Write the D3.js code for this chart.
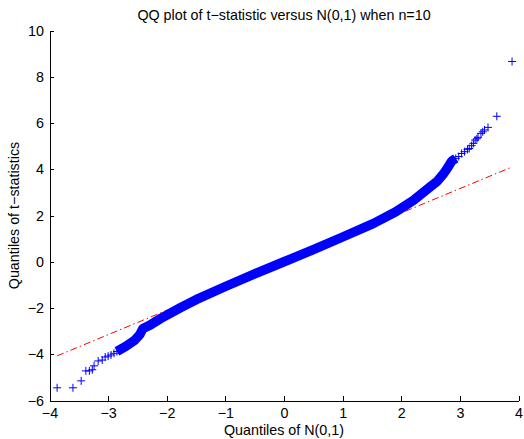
<!DOCTYPE html>
<html>
<head>
<meta charset="utf-8">
<script src="https://cdn.jsdelivr.net/npm/d3@7"></script>
<style>
  body { margin: 0; background: #ffffff; }
  svg { display: block; font-family: "Liberation Sans", Arial, sans-serif; }
  .axis text { font-size: 14.3px; fill: #000000; font-family: "Liberation Sans", Arial, sans-serif; }
  .axis path, .axis line { stroke: #000000; stroke-width: 1; shape-rendering: crispEdges; }
</style>
</head>
<body>
<svg id="chart"></svg>
<script>
// sparse markers of the lower tail (normal quantile, t quantile)
const lowTailX = [-3.87, -3.60, -3.46, -3.38, -3.32, -3.27, -3.24, -3.17, -3.10, -3.05, -3.00, -2.95, -2.90];
const lowTailY = [-5.45, -5.45, -5.15, -4.72, -4.72, -4.67, -4.50, -4.29, -4.25, -4.12, -4.08, -4.03, -3.96];

// the dense middle of the sample, read along its centre
const bandX = [-2.85, -2.70, -2.55, -2.46, -2.41, -2.30, -2.10, -1.76, -1.50, -1.00, -0.50, 0.00,
  0.50, 1.00, 1.52, 1.90, 2.21, 2.49, 2.61, 2.72, 2.78, 2.86, 2.93];
const bandY = [-3.88, -3.66, -3.40, -3.15, -2.90, -2.76, -2.45, -1.98, -1.64, -1.07, -0.52, 0.00,
  0.52, 1.07, 1.65, 2.15, 2.66, 3.23, 3.47, 3.80, 4.02, 4.35, 4.47];

// sparse markers of the upper tail
const highTailX = [2.98, 3.03, 3.08, 3.13, 3.16, 3.20, 3.23, 3.26, 3.29, 3.31, 3.36, 3.39, 3.42, 3.48, 3.63, 3.89];
const highTailY = [4.55, 4.68, 4.76, 4.86, 4.90, 5.02, 5.12, 5.26, 5.32, 5.38, 5.55, 5.62, 5.70, 5.81, 6.29, 8.66];

// reference line through the quartiles
const refX = [-3.87, 3.89];
const refY = [-4.07, 4.10];

const xTicks = [-4, -3, -2, -1, 0, 1, 2, 3, 4];
const yTicks = [-6, -4, -2, 0, 2, 4, 6, 8, 10];

const titleText = "QQ plot of t\u2212statistic versus N(0,1) when n=10";
const xLabel = "Quantiles of N(0,1)";
const yLabel = "Quantiles of t\u2212statistics";

class QQPlot {
  constructor(el) {
    this.el = el;
    this.init();
  }

  init() {
    this.dims = { width: 524, height: 439, left: 49.5, right: 518.5, top: 30.5, bottom: 400.5 };
    this.x = d3.scaleLinear().domain([-4, 4]).range([this.dims.left, this.dims.right]);
    this.y = d3.scaleLinear().domain([-6, 10]).range([this.dims.bottom, this.dims.top]);

    this.svg = d3.select(this.el)
      .attr("width", this.dims.width)
      .attr("height", this.dims.height);
    this.render();
  }

  render() {
    this.renderAxes();
    this.renderRefLine();
    this.renderPoints();
    this.renderTexts();
  }

  renderAxes() {
    const fmt = (d) => String(d).replace("-", "\u2212");
    this.svg.append("g")
      .attr("class", "axis")
      .attr("transform", `translate(0,${this.dims.bottom})`)
      .call(d3.axisBottom(this.x).tickValues(xTicks).tickFormat(fmt)
        .tickSizeInner(-4.5).tickSizeOuter(0).tickPadding(7.5));
    this.svg.append("g")
      .attr("class", "axis")
      .attr("transform", `translate(${this.dims.left},0)`)
      .call(d3.axisLeft(this.y).tickValues(yTicks).tickFormat(fmt)
        .tickSizeInner(-4.5).tickSizeOuter(0).tickPadding(5.5));
  }

  renderRefLine() {
    const line = d3.line().x((d) => this.x(d[0])).y((d) => this.y(d[1]));
    this.svg.append("path")
      .datum(d3.zip(refX, refY))
      .attr("fill", "none")
      .attr("stroke", "#ff0000")
      .attr("stroke-width", 1)
      .attr("stroke-dasharray", "7,3,1.5,3")
      .attr("d", line);
  }

  renderPoints() {
    const line = d3.line().x((d) => this.x(d[0])).y((d) => this.y(d[1]));
    this.svg.append("path")
      .datum(d3.zip(bandX, bandY))
      .attr("fill", "none")
      .attr("stroke", "#0000ff")
      .attr("stroke-width", 9.5)
      .attr("stroke-linejoin", "round")
      .attr("stroke-linecap", "butt")
      .attr("d", line);

    const pts = d3.zip(lowTailX, lowTailY)
      .concat(d3.zip(bandX, bandY))
      .concat(d3.zip(highTailX, highTailY));
    this.svg.append("g")
      .selectAll("path")
      .data(pts)
      .join("path")
      .attr("fill", "none")
      .attr("stroke", "#0000ff")
      .attr("stroke-width", 1)
      .attr("transform", (d) => `translate(${this.x(d[0])},${this.y(d[1])})`)
      .attr("d", "M-4,0H4M0,-4V4");
  }

  renderTexts() {
    const cx = (this.dims.left + this.dims.right) / 2;
    this.svg.append("text")
      .attr("x", cx)
      .attr("y", 20)
      .attr("text-anchor", "middle")
      .attr("font-size", 14.3)
      .text(titleText);
    this.svg.append("text")
      .attr("x", cx)
      .attr("y", 434.5)
      .attr("text-anchor", "middle")
      .attr("font-size", 14.3)
      .text(xLabel);
    this.svg.append("text")
      .attr("transform", `translate(18.5,${(this.dims.top + this.dims.bottom) / 2}) rotate(-90)`)
      .attr("text-anchor", "middle")
      .attr("font-size", 14.3)
      .text(yLabel);
  }
}

new QQPlot(document.getElementById("chart"));
</script>
</body>
</html>
